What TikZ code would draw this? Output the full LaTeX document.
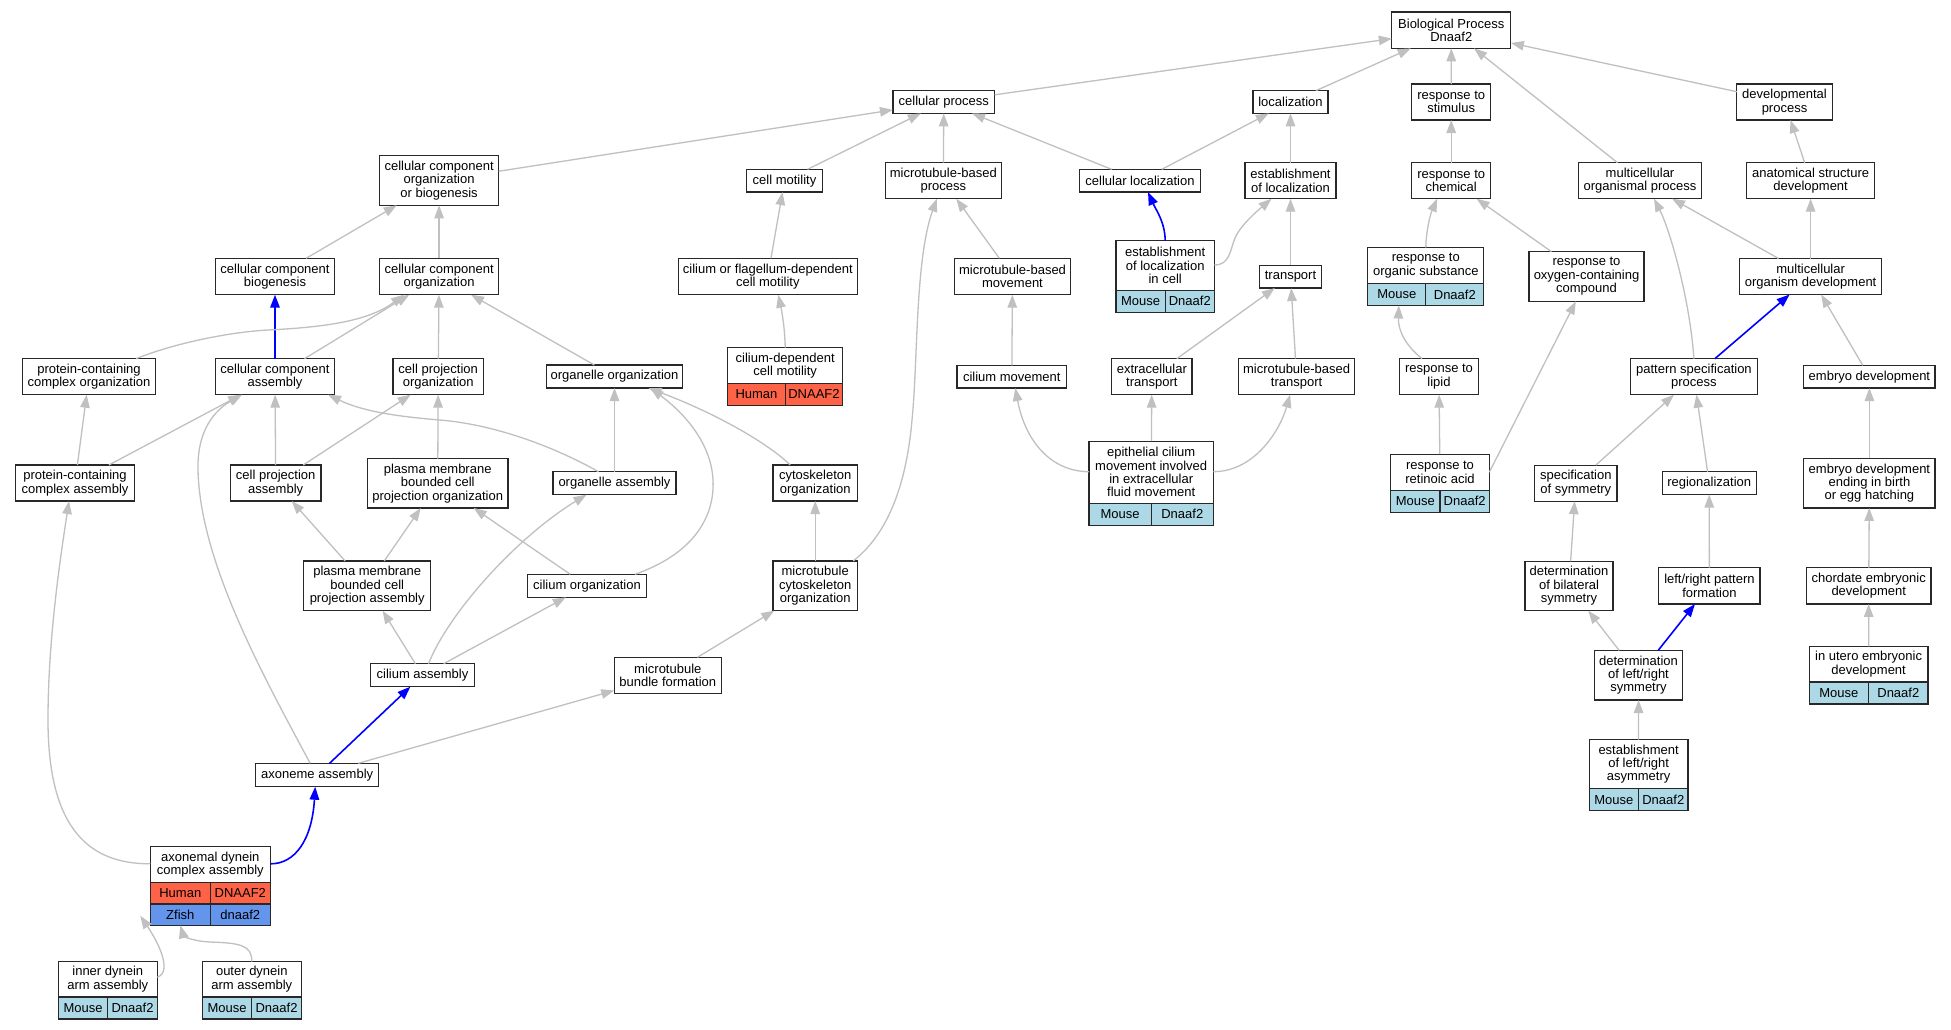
\documentclass[tikz,border=0pt]{standalone}
\usepackage{fontspec}
\setmainfont{Liberation Sans}
\usetikzlibrary{calc,arrows.meta}
\definecolor{egray}{RGB}{192,192,192}
\definecolor{tomatoc}{RGB}{255,99,71}
\definecolor{cornf}{RGB}{100,149,237}
\definecolor{lblue}{RGB}{173,216,230}
\definecolor{bordc}{RGB}{40,40,40}
\newcommand\gvfont{\fontsize{13}{13.4}\selectfont}
\tikzset{
 gbox/.style={draw=bordc, line width=1.25pt, fill=white, inner sep=0pt, outer sep=0pt, align=center, font=\gvfont},
 txt/.style={inner sep=0pt, outer sep=0pt, align=center, font=\gvfont},
 bline/.style={draw=bordc, line width=1.25pt},
 edge/.style={draw=egray, line width=1.3pt, -{Triangle[length=13pt,width=9.5pt]}},
 bedge/.style={draw=blue, line width=1.6pt, -{Triangle[length=13pt,width=9.5pt]}},
}
% name, x, y, width, label height, label, left cell, right cell, colour
\newcommand\trow[9]{%
  \node[gbox, minimum width=#4pt, minimum height=#5pt+22pt] (#1) at (#2,#3) {};
  \node[txt] (#1-t) at ($(#1.north)+(0,#5/2)$) {#6};
  \fill[#9] ($(#1.south west)+(0,-22)$) rectangle (#1.south east);
  \draw[bline] ($(#1.south west)+(0,-22)$) rectangle (#1.south east);
  \draw[bline] ($(#1.south)+(0,-22)$) -- (#1.south);
  \node[txt] (#1-a) at ($(#1.south west)!0.5!(#1.south)+(0,-11)$) {#7};
  \node[txt] (#1-b) at ($(#1.south)!0.5!(#1.south east)+(0,-11)$) {#8};
}
\begin{document}
\begin{tikzpicture}[x=1pt,y=-1pt]
\fill[white] (0,0) rectangle (1951,1029);
\useasboundingbox (0,0) rectangle (1951,1029);

% ---------- rank 0
\node[gbox,minimum width=119pt,minimum height=36.3pt] (bp) at (1451.3,30.2) {Biological Process\\Dnaaf2};
% ---------- rank 1
\node[gbox,minimum width=101.7pt,minimum height=22.7pt] (cp) at (943.8,102) {cellular process};
\node[gbox,minimum width=75pt,minimum height=22.7pt] (loc) at (1290.5,102) {localization};
\node[gbox,minimum width=79pt,minimum height=36pt] (rstim) at (1451.2,102) {response to\\stimulus};
\node[gbox,minimum width=95.5pt,minimum height=36pt] (devp) at (1784.5,102) {developmental\\process};
% ---------- rank 2
\node[gbox,minimum width=119.2pt,minimum height=49.6pt] (ccob) at (439.1,180.5) {cellular component\\organization\\or biogenesis};
\node[gbox,minimum width=76.4pt,minimum height=22.7pt] (cmot) at (784.5,180.7) {cell motility};
\node[gbox,minimum width=116pt,minimum height=36pt] (mbp) at (943.3,180.7) {microtubule-based\\process};
\node[gbox,minimum width=120.6pt,minimum height=22.7pt] (cloc) at (1140,180.7) {cellular localization};
\node[gbox,minimum width=91pt,minimum height=36pt] (eloc) at (1290.5,180.7) {establishment\\of localization};
\node[gbox,minimum width=79pt,minimum height=36pt] (rchem) at (1451.2,180.7) {response to\\chemical};
\node[gbox,minimum width=122.8pt,minimum height=36pt] (mop) at (1640,180.7) {multicellular\\organismal process};
\node[gbox,minimum width=128.2pt,minimum height=36pt] (asd) at (1810.6,180.7) {anatomical structure\\development};
% ---------- rank 3
\node[gbox,minimum width=118.8pt,minimum height=36.4pt] (ccbio) at (275,276.5) {cellular component\\biogenesis};
\node[gbox,minimum width=119.2pt,minimum height=36.4pt] (ccorg) at (439.1,276.5) {cellular component\\organization};
\node[gbox,minimum width=179pt,minimum height=36.4pt] (cfmot) at (767.8,276.5) {cilium or flagellum-dependent\\cell motility};
\node[gbox,minimum width=116.4pt,minimum height=36.4pt] (mbm) at (1012.5,276.5) {microtubule-based\\movement};
\trow{elocc}{1165.2}{276.5}{98.3}{49.3}{establishment\\of localization\\in cell}{Mouse}{Dnaaf2}{lblue}
\node[gbox,minimum width=61.6pt,minimum height=22.7pt] (trans) at (1290.5,276.7) {transport};
\trow{ros}{1425.8}{276.5}{116.1}{36}{response to\\organic substance}{Mouse}{Dnaaf2}{lblue}
\node[gbox,minimum width=115pt,minimum height=49.7pt] (roc) at (1586.5,276.5) {response to\\oxygen-containing\\compound};
\node[gbox,minimum width=141.5pt,minimum height=36pt] (mod) at (1810.6,276.5) {multicellular\\organism development};
% ---------- rank 4
\node[gbox,minimum width=133.5pt,minimum height=36pt] (pcco) at (89,376.7) {protein-containing\\complex organization};
\node[gbox,minimum width=118.8pt,minimum height=36pt] (cca) at (275,376.7) {cellular component\\assembly};
\node[gbox,minimum width=90.6pt,minimum height=36pt] (cpo) at (438.2,376.7) {cell projection\\organization};
\node[gbox,minimum width=136.4pt,minimum height=23pt] (oo) at (614.5,376.5) {organelle organization};
\trow{cdm}{785.2}{376.5}{115}{35.6}{cilium-dependent\\cell motility}{Human}{DNAAF2}{tomatoc}
\node[gbox,minimum width=109.7pt,minimum height=22.7pt] (cmov) at (1011.8,376.7) {cilium movement};
\node[gbox,minimum width=80.3pt,minimum height=36pt] (ect) at (1151.8,376.7) {extracellular\\transport};
\node[gbox,minimum width=116.5pt,minimum height=36pt] (mbt) at (1296.6,376.7) {microtubule-based\\transport};
\node[gbox,minimum width=78.7pt,minimum height=36pt] (rlip) at (1439,376.7) {response to\\lipid};
\node[gbox,minimum width=127pt,minimum height=36pt] (psp) at (1693.9,376.7) {pattern specification\\process};
\node[gbox,minimum width=131.2pt,minimum height=22.7pt] (embd) at (1869.4,376.7) {embryo development};
% ---------- rank 5
\node[gbox,minimum width=118.8pt,minimum height=36pt] (pcca) at (75,483) {protein-containing\\complex assembly};
\node[gbox,minimum width=90.6pt,minimum height=36pt] (cpa) at (275.7,483) {cell projection\\assembly};
\node[gbox,minimum width=140.6pt,minimum height=49.4pt] (pmbcpo) at (437.7,483.3) {plasma membrane\\bounded cell\\projection organization};
\node[gbox,minimum width=123pt,minimum height=23pt] (oa) at (614.5,483.2) {organelle assembly};
\node[gbox,minimum width=84.3pt,minimum height=36pt] (cyto) at (815.2,483) {cytoskeleton\\organization};
\trow{ecm}{1151.2}{483.2}{124.3}{62}{epithelial cilium\\movement involved\\in extracellular\\fluid movement}{Mouse}{Dnaaf2}{lblue}
\trow{rra}{1440}{483.2}{98.6}{36}{response to\\retinoic acid}{Mouse}{Dnaaf2}{lblue}
\node[gbox,minimum width=82.6pt,minimum height=36pt] (sos) at (1575.8,483.2) {specification\\of symmetry};
\node[gbox,minimum width=94pt,minimum height=22.7pt] (reg) at (1709.2,483.2) {regionalization};
\node[gbox,minimum width=131.2pt,minimum height=49.5pt] (edeb) at (1869.4,483.2) {embryo development\\ending in birth\\or egg hatching};
% ---------- rank 6
\node[gbox,minimum width=127pt,minimum height=49.7pt] (pmbcpa) at (367.2,585.8) {plasma membrane\\bounded cell\\projection assembly};
\node[gbox,minimum width=119.4pt,minimum height=23pt] (corg) at (587,585.8) {cilium organization};
\node[gbox,minimum width=84.3pt,minimum height=49.7pt] (mco) at (815.2,585.8) {microtubule\\cytoskeleton\\organization};
\node[gbox,minimum width=88.2pt,minimum height=49.4pt] (dbs) at (1569,586) {determination\\of bilateral\\symmetry};
\node[gbox,minimum width=101.3pt,minimum height=36.3pt] (lrpf) at (1709.4,585.8) {left/right pattern\\formation};
\node[gbox,minimum width=124.3pt,minimum height=36.3pt] (ced) at (1868.7,585.8) {chordate embryonic\\development};
% ---------- rank 7
\node[gbox,minimum width=104.4pt,minimum height=23pt] (cass) at (422.5,675.2) {cilium assembly};
\node[gbox,minimum width=107pt,minimum height=36pt] (mbf) at (667.8,675.3) {microtubule\\bundle formation};
\node[gbox,minimum width=88.1pt,minimum height=49.7pt] (dlrs) at (1638.5,675.2) {determination\\of left/right\\symmetry};
\trow{iued}{1868.6}{675.2}{118.8}{35.6}{in utero embryonic\\development}{Mouse}{Dnaaf2}{lblue}
% ---------- rank 8
\node[gbox,minimum width=123pt,minimum height=23.4pt] (axa) at (317.2,775) {axoneme assembly};
\trow{elra}{1638.6}{775.2}{98.8}{49.3}{establishment\\of left/right\\asymmetry}{Mouse}{Dnaaf2}{lblue}
% ---------- rank 9
\node[gbox,minimum width=120pt,minimum height=79pt] (axd) at (210.3,885.8) {};
\node[txt] (axd-t) at ($(axd.north)+(0,18.2)$) {axonemal dynein\\complex assembly};
\fill[tomatoc] ($(axd.west)+(0,-3.1)$) rectangle ($(axd.east)+(0,18.2)$);
\fill[cornf] ($(axd.west)+(0,18.2)$) rectangle (axd.south east);
\draw[bline] ($(axd.west)+(0,-3.1)$) rectangle (axd.south east);
\draw[bline] ($(axd.west)+(0,18.2)$) -- ($(axd.east)+(0,18.2)$);
\draw[bline] ($(axd.center)+(0,-3.1)$) -- (axd.south);
\node[txt] (axd-a) at ($(axd.center)+(-30,7.6)$) {Human};
\node[txt] (axd-b) at ($(axd.center)+(30,7.6)$) {DNAAF2};
\node[txt] (axd-c) at ($(axd.center)+(-30,28.9)$) {Zfish};
\node[txt] (axd-d) at ($(axd.center)+(30,28.9)$) {dnaaf2};
% ---------- rank 10
\trow{ida}{107.8}{990.2}{99}{35.4}{inner dynein\\arm assembly}{Mouse}{Dnaaf2}{lblue}
\trow{oda}{251.8}{990.2}{99}{35.4}{outer dynein\\arm assembly}{Mouse}{Dnaaf2}{lblue}

% ================= straight connectors
\draw[edge] (cp) -- (bp);
\draw[edge] (loc) -- (bp);
\draw[edge] (rstim) -- (bp);
\draw[edge] (devp) -- (bp);
\draw[edge] (mop) -- (bp);
\draw[edge] (ccob) -- (cp);
\draw[edge] (cmot) -- (cp);
\draw[edge] (mbp) -- (cp);
\draw[edge] (cloc) -- (cp);
\draw[edge] (cloc) -- (loc);
\draw[edge] (eloc) -- (loc);
\draw[edge] (rchem) -- (rstim);
\draw[edge] (asd) -- (devp);
\draw[edge] (ccbio) -- (ccob);
\draw[edge] (ccorg) -- (ccob);
\draw[edge] (cfmot) -- (cmot);
\draw[edge] (mbm) -- (mbp);
\draw[edge] (trans) -- (eloc);
\draw[edge] (roc) -- (rchem);
\draw[edge] (mod) -- (mop);
\draw[edge] (mod) -- (asd);
\draw[bedge] (psp) -- (mod);
\draw[edge] (embd) -- (mod);
\draw[bedge] (cca) -- (ccbio);
\draw[edge] (cca) -- (ccorg);
\draw[edge] (cpo) -- (ccorg);
\draw[edge] (oo) -- (ccorg);
\draw[edge] (cmov) -- (mbm);
\draw[edge] (ect) -- (trans);
\draw[edge] (mbt) -- (trans);
\draw[edge] (rra) -- (rlip);
\draw[edge] (sos) -- (psp);
\draw[edge] (reg) -- (psp);
\draw[edge] (edeb) -- (embd);
\draw[edge] (pcca) -- (pcco);
\draw[edge] (pcca) -- (cca);
\draw[edge] (cpa) -- (cca);
\draw[edge] (cpa) -- (cpo);
\draw[edge] (pmbcpo) -- (cpo);
\draw[edge] (oa) -- (oo);
\draw[edge] (pmbcpa) -- (cpa);
\draw[edge] (pmbcpa) -- (pmbcpo);
\draw[edge] (corg) -- (pmbcpo);
\draw[edge] (mco) -- (cyto);
\draw[edge] (cass) -- (pmbcpa);
\draw[edge] (cass) -- (corg);
\draw[edge] (mbf) -- (mco);
\draw[bedge] (axa) -- (cass);
\draw[edge] (axa) -- (mbf);
\draw[edge] (dbs) -- (sos);
\draw[edge] (lrpf) -- (reg);
\draw[edge] (ced) -- (edeb);
\draw[edge] (dlrs) -- (dbs);
\draw[bedge] (dlrs) -- (lrpf);
\draw[edge] (iued) -- (ced);
\draw[edge] (elra) -- (dlrs);
\draw[edge] (ecm) -- (ect);
\draw[edge] ($(rra.east)+(0,-11)$) -- ($(roc.south)+(-10.7,0)$);

% ================= curved connectors
\draw[bedge] (elocc.north) .. controls (1165,222) and (1156,210) .. ($(cloc.south)+(8,0)$);
\draw[edge] ($(elocc.east)+(0,-11.5)$) .. controls (1230,265) and (1230,250) .. (1235,238) .. controls (1240,226) and (1256,212) .. ($(eloc.south)+(-19,0)$);
\draw[edge] (ros.north) .. controls (1426,232) and (1430,215) .. ($(rchem.south)+(-14,0)$);
\draw[edge] (psp.north) .. controls (1690,300) and (1670,230) .. ($(mop.south)+(14,0)$);
\draw[edge] ($(pcco.north)+(47,0)$) .. controls (175,343) and (230,332) .. (268,330) .. controls (330,327) and (370,320) .. ($(ccorg.south)+(-35,0)$);
\draw[edge] (cdm.north) .. controls (785,330) and (782,312) .. ($(cfmot.south)+(10.5,0)$);
\draw[edge] ($(mco.north)+(38,0)$) .. controls (880,540) and (905,500) .. (912,420) .. controls (918,360) and (915,260) .. ($(mbp.south)+(-6.5,0)$);
\draw[edge] ($(rlip.north)+(-17,0)$) .. controls (1405,345) and (1398,330) .. ($(ros.south)+(-27,0)$);
\draw[edge] ($(oa.north)+(-16,0)$) .. controls (560,450) and (500,425) .. (440,420) .. controls (390,416) and (360,410) .. ($(cca.south)+(53,0)$);
\draw[edge] ($(cyto.north)+(-25,0)$) .. controls (770,445) and (720,415) .. ($(oo.south)+(34,0)$);
\draw[edge] ($(corg.north)+(48,0)$) .. controls (690,555) and (715,520) .. (713,480) .. controls (711,440) and (680,410) .. ($(oo.south)+(36,0)$);
\draw[edge] ($(cass.north)+(6,0)$) .. controls (450,610) and (520,535) .. ($(oa.south)+(-28,0)$);
\draw[edge] ($(axa.north)+(-7,0)$) .. controls (260,670) and (200,560) .. (198,470) .. controls (197,430) and (215,410) .. ($(cca.south)+(-33,0)$);
\draw[bedge] ($(axd.east)+(0,-22)$) .. controls (295,864) and (312,840) .. ($(axa.south)+(-2,0)$);
\draw[edge] ($(axd.west)+(0,-22)$) .. controls (90,864) and (48,830) .. (48,720) .. controls (48,640) and (60,560) .. ($(pcca.south)+(-6,0)$);
\draw[edge] ($(ida.east)+(0,-13)$) .. controls (172,972) and (160,945) .. ($(axd.south west)+(-10,-9.5)$);
\draw[edge] (oda.north) .. controls (252,945) and (240,943) .. (210,942) .. controls (190,941) and (183,935) .. ($(axd.south)+(-30,0)$);
\draw[edge] ($(ecm.west)+(0,-11.5)$) .. controls (1050,471.5) and (1025,440) .. ($(cmov.south)+(3.5,0)$);
\draw[edge] ($(ecm.east)+(0,-11.5)$) .. controls (1255,471.5) and (1280,430) .. ($(mbt.south)+(-6.5,0)$);
\end{tikzpicture}
\end{document}
